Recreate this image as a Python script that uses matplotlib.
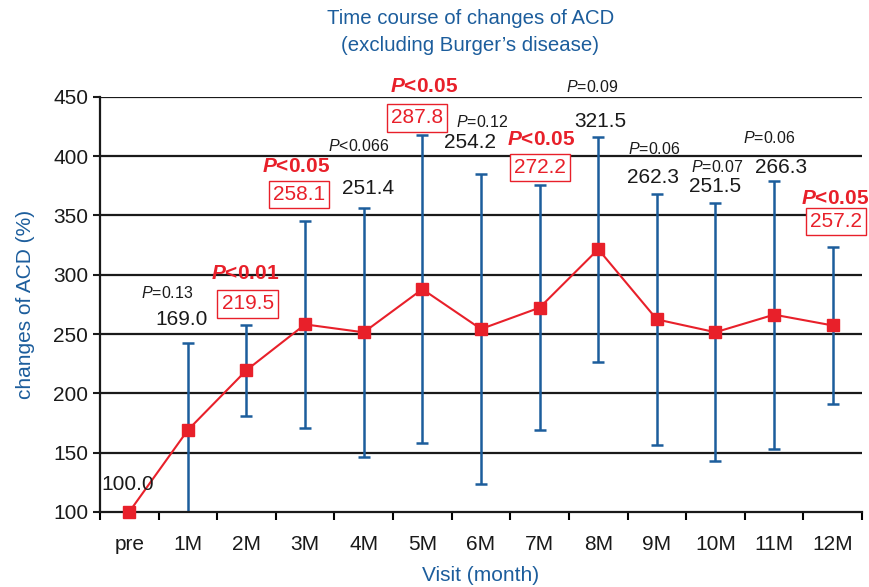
import matplotlib.pyplot as plt
import numpy as np

plt.rcParams['font.family'] = ['Liberation Sans', 'DejaVu Sans']
plt.rcParams['mathtext.fontset'] = 'custom'
plt.rcParams['mathtext.rm'] = 'Liberation Sans'
plt.rcParams['mathtext.it'] = 'Liberation Sans:italic'
plt.rcParams['mathtext.bf'] = 'Liberation Sans:bold'
plt.rcParams['mathtext.bfit'] = 'Liberation Sans:bold:italic'

visits = ['pre', '1M', '2M', '3M', '4M', '5M', '6M', '7M', '8M', '9M', '10M', '11M', '12M']
acd_mean = [100.0, 169.0, 219.5, 258.1, 251.4, 287.8, 254.2, 272.2, 321.5, 262.3, 251.5, 266.3, 257.2]
acd_sd = [0, 73, 38.5, 87, 105, 130, 131, 103.5, 95, 106, 109, 113, 66]
p_labels = [None, '=0.13', '<0.01', '<0.05', '<0.066', '<0.05', '=0.12', '<0.05', '=0.09',
            '=0.06', '=0.07', '=0.06', '<0.05']
significant = [False, False, True, True, False, True, False, True, False, False, False, False, True]

# label placement: x offsets (in categories) and y levels (in data units)
label_dx = [-0.02, -0.1, 0.02, -0.1, 0.07, -0.09, -0.18, 0.0, 0.03, -0.06, 0.0, 0.12, 0.06]
p_dx = [0.0, -0.36, -0.03, -0.15, -0.08, 0.03, 0.02, 0.02, -0.1, -0.05, 0.03, -0.08, 0.04]
value_y = [122.8, 261.9, 275.4, 367.4, 373, 432.3, 411.2, 390.5, 429.2, 381.7, 374.1, 390.5, 344.6]
p_y = [None, 284.7, 300.7, 391, 408.7, 458.4, 429.2, 413.7, 458.4, 406.1, 390.5, 415.3, 364.3]

RED = '#e8202a'
BLUE = '#1c5d9c'
INK = '#1a1a1a'

fig, ax = plt.subplots(figsize=(8.69, 5.87), dpi=100)
fig.subplots_adjust(left=0.115, right=0.992, top=0.835, bottom=0.128)

x = np.arange(len(visits))
ax.set_xlim(-0.5, len(visits) - 0.5)
ax.set_ylim(100, 450)
ax.set_yticks(np.arange(100, 451, 50))
for yv in np.arange(150, 451, 50):
    ax.axhline(yv, color=INK, lw=1.6, zorder=1)

ax.errorbar(x[1:], acd_mean[1:], yerr=acd_sd[1:], fmt='none', ecolor=BLUE,
            elinewidth=1.8, capsize=4.5, capthick=1.8, zorder=2)
ax.plot(x, acd_mean, color=RED, lw=1.5, marker='s', ms=9, mec=RED, mfc=RED, zorder=4,
        clip_on=False)

for i in range(len(visits)):
    xv = x[i] + label_dx[i]
    if significant[i]:
        ax.text(xv, value_y[i], f'{acd_mean[i]:.1f}', color=RED, fontsize=15,
                ha='center', va='center', zorder=5,
                bbox=dict(boxstyle='square,pad=0.2', fc='white', ec=RED, lw=1.0))
        ax.text(x[i] + p_dx[i], p_y[i], r'$\mathbfit{P}$' + p_labels[i], color=RED,
                fontsize=15, fontweight='bold', ha='center', va='center', zorder=5)
    else:
        ax.text(xv, value_y[i], f'{acd_mean[i]:.1f}', color=INK, fontsize=15,
                ha='center', va='center', zorder=5)
        if p_labels[i]:
            ax.text(x[i] + p_dx[i], p_y[i], r'$\mathit{P}$' + p_labels[i], color=INK,
                    fontsize=11.5, ha='center', va='center', zorder=5)

ax.set_xticks(x)
ax.set_xticklabels(visits, fontsize=15, color=INK)
ax.set_xticks(np.arange(-0.5, len(visits), 1), minor=True)
ax.tick_params(axis='x', which='major', length=0, pad=17)
ax.tick_params(axis='x', which='minor', length=6, width=1.5, direction='out')
ax.tick_params(axis='y', labelsize=15, length=5, width=1.5, colors=INK)

for side in ['top', 'right']:
    ax.spines[side].set_visible(False)
for side in ['left', 'bottom']:
    ax.spines[side].set_linewidth(1.6)
    ax.spines[side].set_color(INK)

ax.set_ylabel('changes of ACD (%)', color=BLUE, fontsize=15, labelpad=13)
ax.set_xlabel('Visit (month)', color=BLUE, fontsize=15, labelpad=8)
fig.text(0.541, 0.969, 'Time course of changes of ACD', color=BLUE, fontsize=14.7,
         ha='center', va='center')
fig.text(0.541, 0.923, '(excluding Burger\u2019s disease)', color=BLUE, fontsize=14.7,
         ha='center', va='center')

fig.savefig('out.png', dpi=100)
